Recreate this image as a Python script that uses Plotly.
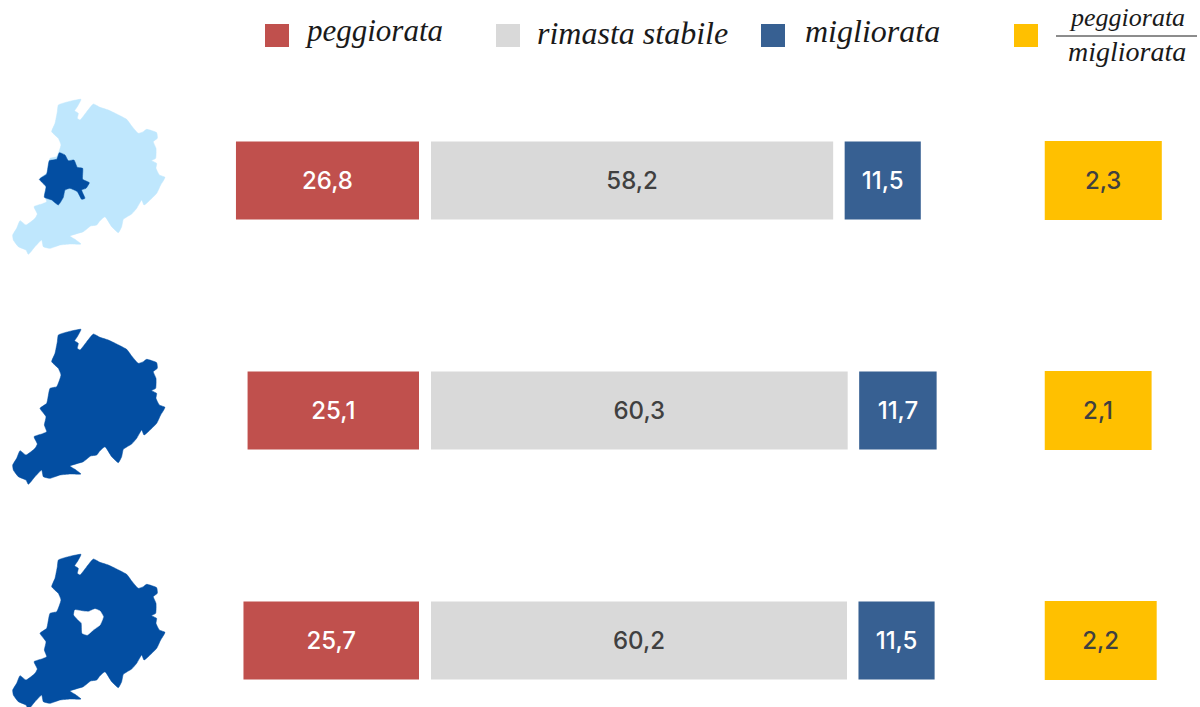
import plotly.graph_objects as go

# values per row, top to bottom
rows = [0, 1, 2]
peggiorata = [26.8, 25.1, 25.7]
stabile = [58.2, 60.3, 60.2]
migliorata = [11.5, 11.7, 11.5]
rapporto = [2.3, 2.1, 2.2]

# region outline (image units, y going down)
region_x = [175, 205, 243, 232, 224, 235, 232, 240, 258, 280, 300, 325, 350, 380, 395, 415, 430, 440, 470, 472,
            460, 468, 467, 455, 470, 468, 478, 495, 482, 470, 445, 432, 425, 410, 395, 370, 365, 355, 335, 315,
            300, 290, 272, 250, 210, 225, 243, 210, 180, 150, 130, 125, 105, 85, 78, 55, 40, 38, 50, 60,
            78, 105, 112, 102, 125, 140, 133, 138, 120, 140, 150, 170, 183, 175, 155, 165, 172, 175]
region_y = [45, 35, 28, 50, 62, 70, 85, 90, 68, 42, 52, 60, 72, 88, 108, 130, 125, 118, 128, 145,
            155, 175, 205, 212, 220, 235, 255, 262, 285, 310, 335, 345, 330, 355, 372, 388, 410, 428, 410, 380,
            392, 405, 408, 425, 438, 448, 462, 462, 465, 475, 470, 450, 470, 493, 480, 470, 450, 435, 415, 392,
            405, 385, 372, 350, 342, 335, 315, 290, 265, 250, 205, 200, 165, 145, 125, 100, 65, 45]
city_x = [178, 195, 205, 222, 232, 248, 248, 268, 258, 245, 255, 245, 232, 210, 195, 190, 175, 155, 133, 138,
          118, 140, 148, 170, 178]
city_y = [188, 195, 212, 210, 232, 235, 268, 278, 295, 300, 325, 328, 305, 295, 300, 322, 345, 330, 322, 290,
          268, 252, 212, 208, 188]
hole_x = [225, 222, 235, 245, 247, 262, 280, 300, 310, 300, 285, 265, 245, 225]
hole_y = [195, 210, 225, 235, 265, 270, 255, 240, 215, 198, 192, 200, 198, 195]

RED = '#C0504D'
GREY = '#D9D9D9'
BLUE = '#376092'
YELLOW = '#FFC000'
DARK_MAP = '#034EA2'
LIGHT_MAP = '#BFE7FD'
WHITE = '#FFFFFF'
TEXT = '#404040'
INK = '#1A1A1A'

W, H = 1200, 707
BAR_FONT = 'Inter'
HAND_FONT = 'Liberation Serif'


def px_x(p):
  return p / W


def px_y(p):
  return 1 - p / H


def bar(x, base, color, text_color, xaxis, width=0.339):
  return go.Bar(
    x=x,
    y=rows,
    base=base,
    orientation='h',
    width=width,
    marker=dict(color=color, line=dict(width=0)),
    texttemplate='%{x:.1f}',
    textposition='inside',
    insidetextanchor='middle',
    textangle=0,
    textfont=dict(family=BAR_FONT, size=24, color=text_color, weight=500),
    xaxis=xaxis,
    yaxis='y',
    showlegend=False,
    hoverinfo='skip'
  )


def map_trace(x, y, color, idx):
  return go.Scatter(
    x=x,
    y=y,
    mode='lines',
    fill='toself',
    fillcolor=color,
    line=dict(color=color, width=0.5, shape='spline', smoothing=0.4),
    xaxis=f'x{idx}',
    yaxis=f'y{idx}',
    showlegend=False,
    hoverinfo='skip'
  )


fig = go.Figure()

# scales in px per unit differ slightly between the columns
red_scale, grey_scale, blue_scale, yellow_scale = 6.83, 6.91, 6.62, 51
blue_base = [(g * grey_scale + 11.5) / blue_scale for g in stabile]

fig.add_trace(bar(peggiorata, None, RED, WHITE, 'x'))
fig.add_trace(bar(stabile, None, GREY, TEXT, 'x2'))
fig.add_trace(bar(migliorata, blue_base, BLUE, WHITE, 'x3'))
fig.add_trace(bar(rapporto, None, YELLOW, TEXT, 'x4', width=0.343))

fig.add_trace(map_trace(region_x, region_y, LIGHT_MAP, 5))
fig.add_trace(map_trace(city_x, city_y, DARK_MAP, 5))
fig.add_trace(map_trace(region_x, region_y, DARK_MAP, 6))
fig.add_trace(map_trace(region_x, region_y, DARK_MAP, 7))
fig.add_trace(map_trace(hole_x, hole_y, WHITE, 7))

hidden = dict(visible=False, fixedrange=True)

fig.update_layout(
  width=W,
  height=H,
  margin=dict(l=0, r=0, t=0, b=0, pad=0),
  paper_bgcolor='white',
  plot_bgcolor='rgba(0,0,0,0)',
  barmode='overlay',
  separators=',.',
  showlegend=False,
  xaxis=dict(domain=[0, px_x(419)], range=[419 / red_scale, 0], **hidden),
  xaxis2=dict(domain=[px_x(431), 1], range=[0, (W - 431) / grey_scale], anchor='y', **hidden),
  xaxis3=dict(domain=[px_x(431), 1], range=[0, (W - 431) / blue_scale], anchor='y', **hidden),
  xaxis4=dict(domain=[px_x(1044.5), 1], range=[0, (W - 1044.5) / yellow_scale], anchor='y', **hidden),
  yaxis=dict(domain=[0, 1], range=[(H - 180.5) / 230, -180.5 / 230], **hidden),
  xaxis5=dict(domain=[0, px_x(180)], range=[0, 540], anchor='y5', **hidden),
  yaxis5=dict(domain=[px_y(270), px_y(90)], range=[540, 0], anchor='x5', **hidden),
  xaxis6=dict(domain=[0, px_x(180)], range=[0, 540], anchor='y6', **hidden),
  yaxis6=dict(domain=[px_y(500), px_y(320)], range=[540, 0], anchor='x6', **hidden),
  xaxis7=dict(domain=[0, px_x(180)], range=[0, 540], anchor='y7', **hidden),
  yaxis7=dict(domain=[0, px_y(545)], range=[486, 0], anchor='x7', **hidden),
)

# legend, laid out by hand because the entries are irregularly spaced
swatches = [(265, RED), (496, GREY), (761, BLUE), (1014, YELLOW)]
for left, color in swatches:
  fig.add_shape(type='rect', xref='paper', yref='paper',
                x0=px_x(left), x1=px_x(left + 24), y0=px_y(47), y1=px_y(24),
                fillcolor=color, line=dict(width=0))

labels = [(303, 31, 'peggiorata', 31), (535, 33, 'rimasta stabile', 32), (803, 31, 'migliorata', 32)]
for left, top, label, size in labels:
  fig.add_annotation(xref='paper', yref='paper', x=px_x(left), y=px_y(top),
                     xanchor='left', yanchor='middle', showarrow=False, text=f'<i>{label}</i>',
                     font=dict(family=HAND_FONT, size=size, color=INK))

# the fraction needs a smaller size so both words clear the rule
for top, label, size in [(18, 'peggiorata', 26), (52, 'migliorata', 28)]:
  fig.add_annotation(xref='paper', yref='paper', x=px_x(1127), y=px_y(top),
                     xanchor='center', yanchor='middle', showarrow=False, text=f'<i>{label}</i>',
                     font=dict(family=HAND_FONT, size=size, color=INK), borderpad=0)

fig.add_shape(type='line', xref='paper', yref='paper',
              x0=px_x(1056), x1=px_x(1197), y0=px_y(36), y1=px_y(36),
              line=dict(color=INK, width=1))

fig.write_html("out.html", config=dict(displayModeBar=False),
               post_script="document.body.style.margin='0';document.body.style.overflow='hidden';")
